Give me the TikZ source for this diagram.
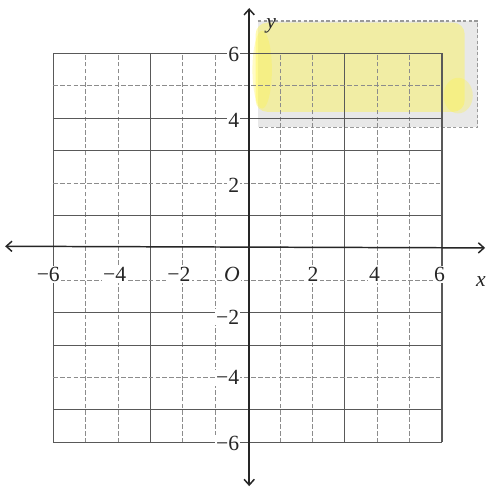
\documentclass[tikz,border=0pt]{standalone}
\usepackage{fontspec}
\setmainfont{Liberation Serif}
\usetikzlibrary{arrows.meta}
\begin{document}
\begin{tikzpicture}[x=1cm,y=1cm,
  solidline/.style={draw=black!65, line width=0.9pt},
  dashline/.style={draw=black!45, line width=0.7pt, dash pattern=on 4pt off 2pt},
  axisline/.style={draw=black!85, line width=1.3pt, arrows={Straight Barb[length=5pt,width=9pt]-Straight Barb[length=5pt,width=9pt]}},
  lbl/.style={font=\fontsize{19}{22}\selectfont, text=black!85, inner sep=1pt},
  ylbl/.style={lbl, anchor=east, fill=white},
  xlbl/.style={lbl, fill=white}]
\useasboundingbox (-7.64,-7.41) rectangle (7.45,7.65);
\fill[white] (-7.64,-7.41) rectangle (7.45,7.65);
% shaded region
\fill[black!9] (0.32,3.72) rectangle (7.1,7.0);
\draw[black!40, line width=1pt, dash pattern=on 3pt off 2pt] (0.32,7.0) -- (7.1,7.0) -- (7.1,3.72) -- (0.32,3.72);
\fill[yellow!75, opacity=0.4, rounded corners=10pt] (0.25,4.2) rectangle (6.7,6.95);
\fill[yellow!75, opacity=0.3] (0.45,5.5) ellipse (0.3 and 1.2);
\fill[yellow!75, opacity=0.3] (6.5,4.7) ellipse (0.45 and 0.55);
% grid
\foreach \x in {-6,-3,3,6} \draw[solidline] (\x,-6) -- (\x,6);
\foreach \x in {-5,-4,-2,-1,1,2,4,5} \draw[dashline] (\x,-6) -- (\x,6);
\foreach \y in {6,4,3,1,-2,-3,-5,-6} \draw[solidline] (-6,\y) -- (6,\y);
\foreach \y in {5,2,-1,-4} \draw[dashline] (-6,\y) -- (6,\y);
% axes
\coordinate (xl) at (-7.48,0.05);
\coordinate (xr) at (7.33,0);
\coordinate (yt) at (0.05,7.4);
\coordinate (yb) at (0.05,-7.35);
\draw[axisline] (xl) -- (xr);
\draw[axisline] (yb) -- (yt);
% x labels
\node[xlbl] (xm6) at (-6.15,-0.83) {−6};
\node[xlbl] (xm4) at (-4.1,-0.83) {−4};
\node[xlbl] (xm2) at (-2.12,-0.83) {−2};
\node[xlbl] (o) at (-0.48,-0.83) {\textit{O}};
\node[xlbl] (x2) at (2.02,-0.83) {2};
\node[xlbl] (x4) at (3.92,-0.83) {4};
\node[xlbl] (x6) at (5.92,-0.83) {6};
\node[lbl] (xname) at (7.2,-1.05) {\textit{x}};
% y labels
\node[ylbl] (y6) at (-0.22,5.96) {6};
\node[ylbl] (y4) at (-0.22,3.95) {4};
\node[ylbl] (y2) at (-0.22,1.94) {2};
\node[ylbl] (ym2) at (-0.22,-2.13) {−2};
\node[ylbl] (ym4) at (-0.22,-4.01) {−4};
\node[ylbl] (ym6) at (-0.22,-6.02) {−6};
\node[lbl] (yname) at (0.73,6.85) {\textit{y}};
\end{tikzpicture}
\end{document}
